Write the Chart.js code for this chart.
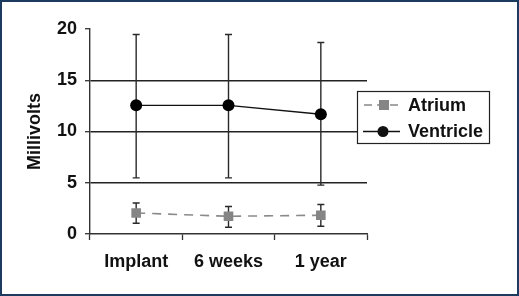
<!DOCTYPE html>
<html>
<head>
<meta charset="utf-8">
<script src="https://cdn.jsdelivr.net/npm/chart.js@4.4.1/dist/chart.umd.min.js"></script>
<style>
  html, body { margin: 0; padding: 0; background: #fff; }
  canvas { display: block; }
</style>
</head>
<body>
<canvas id="myChart" width="519" height="296"></canvas>
<script>
// values
const categories = ['Implant', '6 weeks', '1 year'];
const atrium = [2.05, 1.73, 1.83];
const atriumHigh = [3.03, 2.68, 2.88];
const atriumLow = [1.05, 0.66, 0.76];
const ventricle = [12.55, 12.55, 11.68];
const ventricleHigh = [19.47, 19.47, 18.69];
const ventricleLow = [5.48, 5.48, 4.77];
const yTicks = [0, 5, 10, 15, 20];

const FONT = 'bold 18px "Liberation Sans", Arial, sans-serif';

// draws the whiskers using the chart's own scales
const errorBars = {
  id: 'errorBars',
  beforeDatasetsDraw(chart) {
    const ctx = chart.ctx;
    const x = chart.scales.x, y = chart.scales.y;
    const sets = [[atriumLow, atriumHigh], [ventricleLow, ventricleHigh]];
    ctx.save();
    ctx.strokeStyle = '#2a2a2a';
    ctx.lineWidth = 1.4;
    sets.forEach(([lo, hi]) => {
      categories.forEach((c, i) => {
        const px = x.getPixelForValue(i);
        const top = y.getPixelForValue(hi[i]);
        const bot = y.getPixelForValue(lo[i]);
        ctx.beginPath();
        ctx.moveTo(px, top); ctx.lineTo(px, bot);
        ctx.moveTo(px - 3.5, top); ctx.lineTo(px + 3.5, top);
        ctx.moveTo(px - 3.5, bot); ctx.lineTo(px + 3.5, bot);
        ctx.stroke();
      });
    });
    ctx.restore();
  }
};

// white page with the dark frame
const frame = {
  id: 'frame',
  beforeDraw(chart) {
    const ctx = chart.ctx;
    ctx.save();
    ctx.fillStyle = '#ffffff';
    ctx.fillRect(0, 0, chart.width, chart.height);
    ctx.strokeStyle = '#1d3b5e';
    ctx.lineWidth = 2;
    ctx.strokeRect(1, 1, chart.width - 2, chart.height - 2);
    ctx.restore();
  }
};

// boxed legend to the right of the plot
const boxLegend = {
  id: 'boxLegend',
  afterDraw(chart) {
    const ctx = chart.ctx;
    ctx.save();
    ctx.strokeStyle = '#222';
    ctx.lineWidth = 1.2;
    ctx.fillStyle = '#fff';
    ctx.fillRect(357.5, 91.5, 132, 52);
    ctx.strokeRect(357.5, 91.5, 132, 52);
    ctx.font = FONT;
    ctx.textBaseline = 'middle';

    // Atrium
    ctx.strokeStyle = '#888';
    ctx.lineWidth = 1.5;
    ctx.setLineDash([8, 5]);
    ctx.beginPath(); ctx.moveTo(364, 105); ctx.lineTo(400, 105); ctx.stroke();
    ctx.setLineDash([]);
    ctx.fillStyle = '#858585';
    ctx.fillRect(379, 100, 10, 10);
    ctx.fillStyle = '#111';
    ctx.fillText('Atrium', 408, 106);

    // Ventricle
    ctx.strokeStyle = '#111';
    ctx.lineWidth = 1.4;
    ctx.beginPath(); ctx.moveTo(363, 131.5); ctx.lineTo(400, 131.5); ctx.stroke();
    ctx.beginPath(); ctx.arc(383, 131.5, 5.5, 0, Math.PI * 2); ctx.fill();
    ctx.fillText('Ventricle', 408, 132);
    ctx.restore();
  }
};

const ctx = document.getElementById('myChart').getContext('2d');
const chart = new Chart(ctx, {
  type: 'line',
  data: {
    labels: categories,
    datasets: [{
      label: 'Atrium',
      data: atrium,
      borderColor: '#8a8a8a',
      backgroundColor: '#858585',
      borderWidth: 1.6,
      borderDash: [9, 7],
      pointStyle: 'rect',
      pointRadius: 6.8,
      pointBorderWidth: 0,
      pointBackgroundColor: '#858585'
    }, {
      label: 'Ventricle',
      data: ventricle,
      borderColor: '#111',
      backgroundColor: '#000',
      borderWidth: 1.4,
      pointStyle: 'circle',
      pointRadius: 6,
      pointBorderWidth: 0,
      pointBackgroundColor: '#000'
    }]
  },
  options: {
    responsive: false,
    animation: false,
    layout: { padding: { top: 29, right: 152, bottom: 0, left: 0 } },
    plugins: {
      legend: { display: false },
      tooltip: { enabled: false }
    },
    scales: {
      x: {
        offset: true,
        afterFit(scale) { scale.height = 62; },
        grid: {
          offset: true,
          drawOnChartArea: false,
          drawTicks: true,
          tickLength: 6,
          tickColor: '#333',
          tickWidth: 1.3
        },
        border: { display: true, color: '#333', width: 1.4 },
        ticks: {
          padding: 11,
          color: '#111',
          font: { family: '"Liberation Sans", Arial, sans-serif', size: 18, weight: 'bold' }
        }
      },
      y: {
        min: 0,
        max: 20,
        afterFit(scale) { scale.width = 90; },
        afterBuildTicks(scale) { scale.ticks = yTicks.map(v => ({ value: v })); },
        grid: {
          color: c => (c.tick && c.tick.value > 0 && c.tick.value < 20) ? '#222' : 'rgba(0,0,0,0)',
          lineWidth: 1.4,
          tickLength: 5,
          tickColor: '#333',
          tickWidth: 1.3
        },
        border: { display: true, color: '#333', width: 1.4 },
        ticks: {
          padding: 8,
          color: '#111',
          font: { family: '"Liberation Sans", Arial, sans-serif', size: 18, weight: 'bold' }
        },
        title: {
          display: true,
          text: 'Millivolts',
          color: '#111',
          padding: { top: 24, bottom: 0 },
          font: { family: '"Liberation Sans", Arial, sans-serif', size: 18, weight: 'bold' }
        }
      }
    }
  },
  plugins: [frame, errorBars, boxLegend]
});
</script>
</body>
</html>
